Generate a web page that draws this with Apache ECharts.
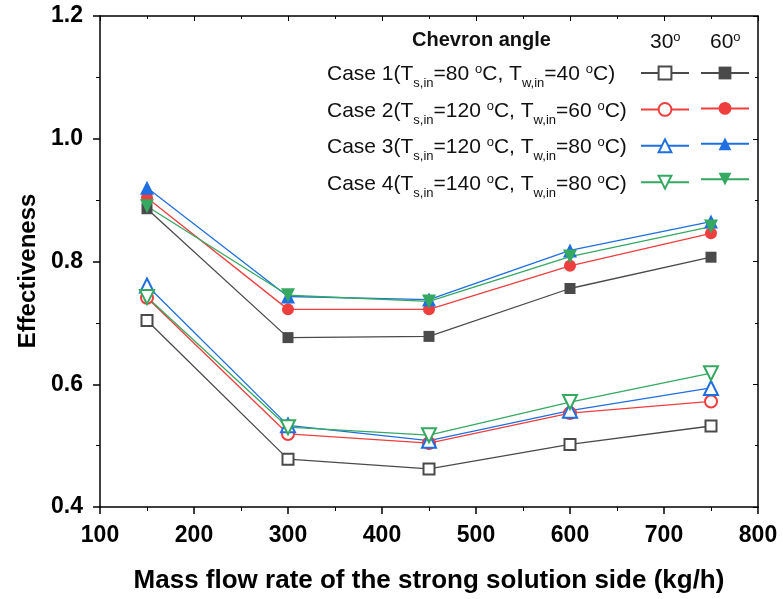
<!DOCTYPE html>
<html>
<head>
<meta charset="utf-8">
<script src="https://cdn.jsdelivr.net/npm/echarts@6/dist/echarts.min.js"></script>
<style>
html,body{margin:0;padding:0;background:#fff;}
#chart{width:783px;height:599px;}
</style>
</head>
<body>
<div id="chart"></div>
<script>
// ---- data ----
const flowRates = [150, 300, 450, 600, 750];
const case1_30 = [0.704, 0.478, 0.462, 0.502, 0.532];
const case2_30 = [0.741, 0.519, 0.504, 0.553, 0.572];
const case3_30 = [0.761, 0.533, 0.508, 0.557, 0.594];
const case4_30 = [0.742, 0.530, 0.517, 0.571, 0.618];
const case1_60 = [0.886, 0.676, 0.678, 0.756, 0.807];
const case2_60 = [0.904, 0.722, 0.722, 0.793, 0.846];
const case3_60 = [0.920, 0.743, 0.738, 0.818, 0.865];
const case4_60 = [0.890, 0.745, 0.735, 0.808, 0.857];
const caseLabels = [
  'Case 1(T{sub|s,in}=80 {sup|o}C, T{sub|w,in}=40 {sup|o}C)',
  'Case 2(T{sub|s,in}=120 {sup|o}C, T{sub|w,in}=60 {sup|o}C)',
  'Case 3(T{sub|s,in}=120 {sup|o}C, T{sub|w,in}=80 {sup|o}C)',
  'Case 4(T{sub|s,in}=140 {sup|o}C, T{sub|w,in}=80 {sup|o}C)'
];
const xTitle = 'Mass flow rate of the strong solution side (kg/h)';
const yTitle = 'Effectiveness';

const FONT = "'Liberation Sans', Arial, sans-serif";
const colors = ['#4a4a4a', '#ef3e3e', '#1f6fe0', '#35a862'];
const sets30 = [case1_30, case2_30, case3_30, case4_30];
const sets60 = [case1_60, case2_60, case3_60, case4_60];
const sym30 = ['emptyRect', 'emptyCircle', 'emptyTriangle', 'emptyTriangle'];
const sym60 = ['rect', 'circle', 'triangle', 'triangle'];
const symSize = [11, 12, 14, 14];
const rot = [0, 0, 0, 180];

function pairs(arr) { return flowRates.map((x, i) => [x, arr[i]]); }

const series = [];
const names30 = [], names60 = [];
for (let i = 0; i < 4; i++) {
  const n30 = 'Case ' + (i + 1) + ' 30';
  const n60 = 'Case ' + (i + 1) + ' 60';
  names30.push(n30); names60.push(n60);
  series.push({
    name: n30, type: 'line', data: pairs(sets30[i]),
    symbol: sym30[i], symbolSize: symSize[i], symbolRotate: rot[i],
    lineStyle: { color: colors[i], width: 1.3 },
    itemStyle: { color: colors[i], borderColor: colors[i], borderWidth: 1.2 },
    emphasis: { disabled: true }, z: 2
  });
  series.push({
    name: n60, type: 'line', data: pairs(sets60[i]),
    symbol: sym60[i], symbolSize: symSize[i], symbolRotate: rot[i],
    lineStyle: { color: colors[i], width: 1.3 },
    itemStyle: { color: colors[i], borderColor: colors[i], borderWidth: 0 },
    emphasis: { disabled: true }, z: 3
  });
}

const richStyles = {
  n: { fontSize: 21, fontFamily: FONT, color: '#111', verticalAlign: 'middle' },
  sub: { fontSize: 13, fontFamily: FONT, color: '#111', padding: [18, 0, 0, 0], verticalAlign: 'middle' },
  sup: { fontSize: 13, fontFamily: FONT, color: '#111', padding: [0, 0, 10, 0], verticalAlign: 'middle' }
};
function wrapN(s) {
  return s.split(/(\{[a-z]+\|[^}]*\})/).filter(t => t.length).map(t => t.startsWith('{') ? t : '{n|' + t + '}').join('');
}

const rowY = [73, 109.5, 146, 182.5];
const graphics = [];
caseLabels.forEach((t, i) => {
  graphics.push({
    type: 'text', left: 327, top: rowY[i] - 10,
    style: { text: wrapN(t), rich: richStyles, fill: '#111' }
  });
});
graphics.push({
  type: 'text', left: 412, top: 30,
  style: { text: 'Chevron angle', font: 'bold 20px ' + FONT, fill: '#111' }
});
graphics.push({
  type: 'text', left: 650, top: 31,
  style: { text: '{n|30}{sup|o}', rich: richStyles, fill: '#111' }
});
graphics.push({
  type: 'text', left: 710, top: 31,
  style: { text: '{n|60}{sup|o}', rich: richStyles, fill: '#111' }
});
graphics.push({
  type: 'text', x: 28, y: 271, rotation: Math.PI / 2,
  style: { text: yTitle, font: 'bold 24px ' + FONT, fill: '#000', align: 'center', verticalAlign: 'middle' }
});

const legendCommon = {
  orient: 'vertical', itemWidth: 48, itemHeight: 16, itemGap: 21,
  formatter: () => '', selectedMode: false, textStyle: { fontSize: 1 }
};

const option = {
  backgroundColor: '#fff',
  animation: false,
  grid: { left: 100, right: 25, top: 16, bottom: 92 },
  legend: [
    Object.assign({ left: 635, top: 60, data: names30 }, legendCommon),
    Object.assign({ left: 695, top: 60, data: names60 }, legendCommon)
  ],
  xAxis: [{
    type: 'value', min: 100, max: 800, interval: 100, position: 'bottom',
    name: xTitle, nameLocation: 'middle', nameGap: 61,
    nameTextStyle: { fontSize: 26, fontWeight: 'bold', fontFamily: FONT, color: '#000' },
    axisLine: { lineStyle: { color: '#000', width: 1.5 } },
    axisTick: { inside: false, length: 7, lineStyle: { color: '#000', width: 1.5 } },
    minorTick: { show: true, splitNumber: 2, length: 4, lineStyle: { color: '#000', width: 1 } },
    axisLabel: { fontSize: 23, fontWeight: 'bold', fontFamily: FONT, color: '#000', margin: 17 },
    splitLine: { show: false }
  }, {
    type: 'value', min: 100, max: 800, interval: 100, position: 'top',
    axisLine: { lineStyle: { color: '#000', width: 1.5 } },
    axisTick: { inside: true, length: 5, lineStyle: { color: '#000', width: 1 } },
    minorTick: { show: true, splitNumber: 2, length: 3, lineStyle: { color: '#000' } },
    axisLabel: { show: false }, splitLine: { show: false }
  }],
  yAxis: [{
    type: 'value', min: 0.4, max: 1.2, interval: 0.2, position: 'left',
    axisLine: { show: true, lineStyle: { color: '#000', width: 1.5 } },
    axisTick: { show: true, inside: false, length: 7, lineStyle: { color: '#000', width: 1.5 } },
    minorTick: { show: true, splitNumber: 2, length: 4, lineStyle: { color: '#000', width: 1 } },
    axisLabel: { fontSize: 23, fontWeight: 'bold', fontFamily: FONT, color: '#000', margin: 17,
      formatter: v => v.toFixed(1) },
    splitLine: { show: false }
  }, {
    type: 'value', min: 0.4, max: 1.2, interval: 0.2, position: 'right',
    axisLine: { show: true, lineStyle: { color: '#000', width: 1.5 } },
    axisTick: { show: true, inside: true, length: 5, lineStyle: { color: '#000', width: 1 } },
    minorTick: { show: true, splitNumber: 2, length: 3, lineStyle: { color: '#000' } },
    axisLabel: { show: false }, splitLine: { show: false }
  }],
  graphic: graphics,
  series: series
};

const chart = echarts.init(document.getElementById('chart'), null, { renderer: 'canvas' });
chart.setOption(option);
</script>
</body>
</html>
